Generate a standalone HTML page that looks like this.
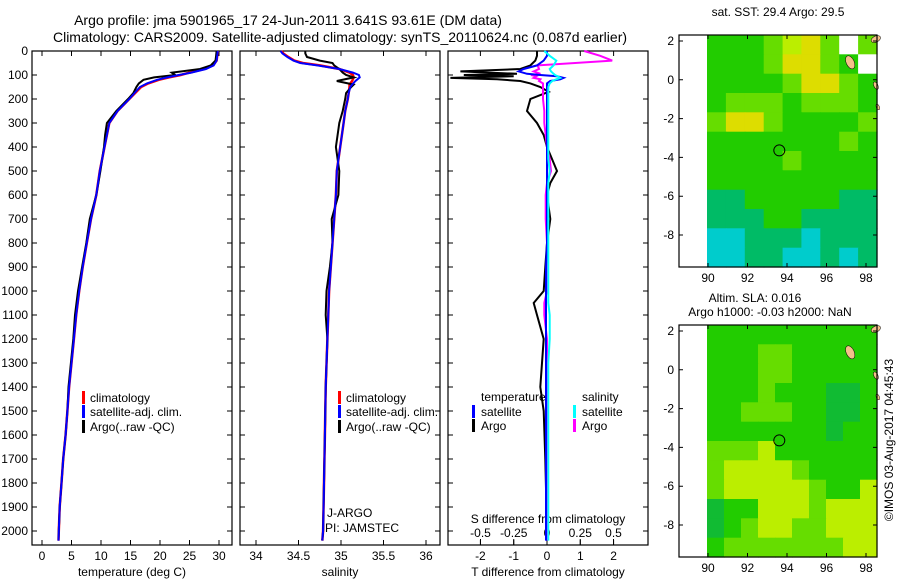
<!DOCTYPE html>
<html><head><meta charset="utf-8"><style>
body{margin:0;background:#fff;}
svg{display:block;font-family:"Liberation Sans",sans-serif;}
</style></head><body>
<svg id="chart" width="900" height="580" viewBox="0 0 900 580" xmlns="http://www.w3.org/2000/svg">
<text x="288" y="25" font-size="14" text-anchor="middle">Argo profile: jma 5901965_17 24-Jun-2011 3.641S 93.61E (DM data)</text>
<text x="340" y="42" font-size="14" text-anchor="middle">Climatology: CARS2009. Satellite-adjusted climatology: synTS_20110624.nc (0.087d earlier)</text>
<text x="778" y="16" font-size="12" text-anchor="middle">sat. SST: 29.4 Argo: 29.5</text>
<text x="755" y="302" font-size="12" text-anchor="middle">Altim. SLA: 0.016</text>
<text x="770" y="316" font-size="12" text-anchor="middle">Argo h1000: -0.03 h2000: NaN</text>
<text transform="translate(893,440) rotate(-90)" font-size="12" text-anchor="middle">©IMOS 03-Aug-2017 04:45:43</text>
<g id="plots"></g>
</svg>
<script>
// ---- profile data ----
const depthT = [0,20,40,60,75,90,100,110,120,135,150,175,200,250,300,350,400,500,600,700,800,900,1000,1100,1200,1300,1400,1500,1600,1700,1800,1900,2000,2040];
const climT  = [29.8,29.7,29.6,29.0,27.5,25.0,23.5,21.5,19.8,18.0,16.8,15.8,14.8,12.8,11.4,11.0,10.6,9.8,9.2,8.3,7.6,6.9,6.3,5.8,5.4,5.0,4.6,4.3,4.0,3.6,3.3,3.0,2.85,2.8];
const satT   = [29.8,29.7,29.6,29.1,27.8,25.3,23.2,21.2,19.5,17.8,16.6,15.7,14.8,12.8,11.4,11.0,10.6,9.8,9.2,8.3,7.6,6.9,6.3,5.8,5.4,5.0,4.6,4.3,4.0,3.6,3.3,3.0,2.85,2.8];
const argoT  = [29.6,29.5,29.4,28.6,26.8,22.0,22.6,19.0,17.2,16.4,16.0,15.5,14.6,12.6,11.0,10.7,10.5,9.9,9.2,8.1,7.5,6.8,6.1,5.6,5.3,4.9,4.5,4.3,4.0,3.6,3.3,3.0,2.85,2.8];
const depthS = [0,10,25,40,50,60,75,90,100,110,125,140,150,175,200,250,300,400,500,600,700,800,900,1000,1100,1200,1400,1600,1800,2000,2040];
const climS  = [34.30,34.32,34.38,34.45,34.55,34.75,34.98,35.10,35.14,35.15,35.13,35.10,35.10,35.09,35.08,35.05,35.03,34.99,34.95,34.94,34.92,34.90,34.88,34.86,34.85,34.84,34.82,34.81,34.80,34.79,34.78];
const satS   = [34.29,34.31,34.37,34.44,34.52,34.72,34.98,35.14,35.21,35.22,35.17,35.13,35.11,35.09,35.08,35.05,35.03,34.99,34.95,34.94,34.92,34.90,34.88,34.86,34.85,34.84,34.82,34.81,34.80,34.79,34.78];
const argoS  = [34.58,34.58,34.60,34.75,34.90,34.92,34.98,35.02,35.06,35.15,34.95,35.15,35.12,35.06,35.05,35.02,34.98,34.94,34.98,34.97,34.89,34.90,34.87,34.83,34.82,34.84,34.82,34.81,34.80,34.79,34.78];
const depthD = [0,20,40,60,75,85,95,100,105,112,118,125,135,150,170,200,250,300,350,400,450,500,550,600,700,800,900,1000,1050,1100,1200,1300,1400,1500,1700,2000,2040];
const dTargo = [-0.3,-0.3,-0.35,-0.5,-0.8,-2.6,-0.9,-2.5,-1.0,-2.9,-1.5,-0.8,-0.5,-0.2,0.05,-0.5,-0.6,-0.3,-0.1,0,0.15,0.3,0.1,0,0.1,0,-0.05,-0.1,-0.4,-0.3,-0.1,-0.15,-0.2,-0.1,-0.05,0,0];
const dTsat  = [0,0,-0.1,-0.3,-0.7,-0.85,-0.6,-0.2,0.3,0.5,0.4,0.1,0,0,0,0,0,0,0,0,0,0,0,0,0,0,-0.03,-0.03,-0.03,-0.03,-0.03,-0.03,-0.03,-0.03,-0.03,-0.03,-0.03];
const dSargo = [0.28,0.4,0.49,-0.07,-0.06,-0.1,-0.05,-0.12,-0.08,-0.1,-0.05,-0.06,-0.03,-0.03,-0.03,-0.03,-0.02,-0.02,-0.01,0,0.02,0.03,0,-0.01,-0.01,0,0,0,-0.02,-0.02,0,0,0,0,0,0,0];
const dSsat  = [-0.02,0.02,0.07,0.05,0.02,0.03,0.05,0.06,0.08,0.1,0.07,0.04,0.02,0.01,0.01,0.01,0.01,0.01,0.01,0.01,0.01,0.02,0.01,0.01,0.01,0.01,0.01,0.01,0.01,0.02,0.02,0.01,0.01,0.01,0.01,0.01,0.01];
const depthTicks = [0,100,200,300,400,500,600,700,800,900,1000,1100,1200,1300,1400,1500,1600,1700,1800,1900,2000];
const tempTicks = [0,5,10,15,20,25,30];
const salTicks = [34,34.5,35,35.5,36];
const tdTicks = [-2,-1,0,1,2];
const sdTicks = [-0.5,-0.25,0,0.25,0.5];
const sdTickLabels = ["-0.5","-0.25","0","0.25","0.5"];
// ---- map data (coarse colour codes per cell) ----
const sstRows = ["ggglyYlwl","ggglYYlgw","gggglYYlg","glllglllg","lYYlggggl","ggggggglg","gggglgggg","ggggggggg","ttgggggtt","tttggtttt","cctttcttt","ccttcctct"];
const slaRows = ["gggggggggg","gggllggggg","gggllggggg","ggglgggddg","gglllggddg","gggggggdgg","lllygggggg","lyyyylgggg","lyyyyylggy","dggyyylyyy","dglyyllyyy","glllllllyy"];
const mapCols = {g:"#22cc00",l:"#66dd00",Y:"#dddd00",y:"#bbee00",t:"#00bb66",c:"#00cccc",d:"#11bb33",w:"#ffffff"};

const NS = "http://www.w3.org/2000/svg";
const root = document.getElementById('plots');
function mk(tag, attrs, parent){const e=document.createElementNS(NS,tag);for(const k in attrs)e.setAttribute(k,attrs[k]);(parent||root).appendChild(e);return e;}

const Y0=51, YB=545;
const yD = d => Y0 + d*0.24;

function panel(x0,x1,name){
  const g=mk('g',{});
  
  
  const r=mk('rect',{x:x0,y:Y0,width:x1-x0,height:YB-Y0,fill:'none',stroke:'#000','stroke-width':1.2},g);
  
  
  depthTicks.forEach(d=>{
    const t=mk('path',{d:`M${x0} ${yD(d)}h5M${x1} ${yD(d)}h-5`,stroke:'#000'},g);
    
    
  });
  return g;
}
function line(g,xs,ds,fx,col,w,name){
  const pts=xs.map((v,i)=>`${fx(v).toFixed(1)},${yD(ds[i]).toFixed(1)}`).join(' ');
  const p=mk('polyline',{points:pts,fill:'none',stroke:col,'stroke-width':w},g);
  
  
}
function xticks(g,ticks,labels,fx,y,name){
  ticks.forEach((v,i)=>{
    const x=fx(v);
    const t=mk('path',{d:`M${x} ${YB}v-5M${x} ${Y0}v5`,stroke:'#000'},g);
    
    
    const l=mk('text',{x:x,y:y,'font-size':12,'text-anchor':'middle'},g);
    l.textContent=labels?labels[i]:String(v);
    
    
  });
}
function txt(g,x,y,s,name,anchor,size){
  const t=mk('text',{x:x,y:y,'font-size':size||12,'text-anchor':anchor||'start'},g);
  t.textContent=s;
  
  
}
function legendMark(g,x,y,col,name){
  const m=mk('rect',{x:x,y:y-11,width:3,height:13,fill:col},g);
  
  
}

depthTicks.forEach(d=>{
  const l=mk('text',{x:28,y:yD(d)+4,'font-size':12,'text-anchor':'end'});
  l.textContent=String(d);
  
  
});

const fT = v => 42 + v*5.9;
const g1=panel(32,232,'temperature-panel');
xticks(g1,tempTicks,null,fT,560,'temperature-axis');
txt(g1,132,576,'temperature (deg C)','temperature-axis-title','middle');
line(g1,climT,depthT,fT,'#ff0000',2.5,'temperature-climatology-line');
line(g1,argoT,depthT,fT,'#000000',2,'temperature-argo-line');
line(g1,satT,depthT,fT,'#0000ff',2,'temperature-satellite-line');
legendMark(g1,82,402,'#ff0000','legend-climatology-mark');
txt(g1,90,402,'climatology','legend-climatology');
legendMark(g1,82,416,'#0000ff','legend-satellite-mark');
txt(g1,90,416,'satellite-adj. clim.','legend-satellite');
legendMark(g1,82,431,'#000000','legend-argo-mark');
txt(g1,90,431,'Argo(..raw -QC)','legend-argo');

const fS = v => 256 + (v-34)*85;
const g2=panel(240,440,'salinity-panel');
xticks(g2,salTicks,null,fS,560,'salinity-axis');
txt(g2,340,576,'salinity','salinity-axis-title','middle');
line(g2,climS,depthS,fS,'#ff0000',2.5,'salinity-climatology-line');
line(g2,argoS,depthS,fS,'#000000',2,'salinity-argo-line');
line(g2,satS,depthS,fS,'#0000ff',2,'salinity-satellite-line');
legendMark(g2,338,402,'#ff0000','legend-climatology-mark');
txt(g2,346,402,'climatology','legend-climatology');
legendMark(g2,338,416,'#0000ff','legend-satellite-mark');
txt(g2,346,416,'satellite-adj. clim.','legend-satellite');
legendMark(g2,338,431,'#000000','legend-argo-mark');
txt(g2,346,431,'Argo(..raw -QC)','legend-argo');
txt(g2,327,517,'J-ARGO','float-program-label');
txt(g2,325,532,'PI: JAMSTEC','float-pi-label');

const fTD = v => 547 + v*33.3;
const fSD = v => 547 + v*133;
const g3=panel(448,648,'difference-panel');
xticks(g3,tdTicks,null,fTD,560,'t-difference-axis');
sdTicks.forEach((v,i)=>{
  const x=fSD(v);
  const t=mk('path',{d:`M${x} 539v6`,stroke:'#000'},g3);
  
  
  txt(g3,x,537,sdTickLabels[i],'s-difference-tick-label','middle');
});
txt(g3,548,523,'S difference from climatology','s-difference-axis-title','middle');
txt(g3,548,576,'T difference from climatology','t-difference-axis-title','middle');
line(g3,dTargo,depthD,fTD,'#000000',2,'t-difference-argo-line');
line(g3,dSargo,depthD,fSD,'#ff00ff',2,'s-difference-argo-line');
line(g3,dTsat,depthD,fTD,'#0000ff',2,'t-difference-satellite-line');
line(g3,dSsat,depthD,fSD,'#00ffff',2,'s-difference-satellite-line');
txt(g3,481,401,'temperature','legend-temperature-heading');
txt(g3,582,401,'salinity','legend-salinity-heading');
legendMark(g3,472,416,'#0000ff','legend-t-satellite-mark');
txt(g3,481,416,'satellite','legend-t-satellite');
legendMark(g3,472,430,'#000000','legend-t-argo-mark');
txt(g3,481,430,'Argo','legend-t-argo');
legendMark(g3,573,416,'#00ffff','legend-s-satellite-mark');
txt(g3,582,416,'satellite','legend-s-satellite');
legendMark(g3,573,430,'#ff00ff','legend-s-argo-mark');
txt(g3,582,430,'Argo','legend-s-argo');

const lonTicks=[90,92,94,96,98];
const latTicks=[2,0,-2,-4,-6,-8];
function map(top,rows,name){
  const bottom=top+232, L=679, R=877;
  const fx = lon => 708 + (lon-90)*19.75;
  const fy = lat => top + 6 + (2-lat)*19.4;
  const g=mk('g',{});
  
  
  const nR=rows.length, nC=rows[0].length;
  const x0=707, cw=(R-x0)/nC, ch=(bottom-top)/nR;
  rows.forEach((row,ri)=>{
    [...row].forEach((c,ci)=>{
      const cell=mk('rect',{x:(x0+ci*cw).toFixed(1),y:(top+ri*ch).toFixed(1),width:(cw+0.6).toFixed(1),height:(ch+0.6).toFixed(1),fill:mapCols[c]},g);
      
      
    });
  });
  const land=[[fx(97.2),fy(0.9),4,7],[fx(98.5),fy(2.1),5,3],[fx(98.5),fy(-0.3),2,4],[fx(98.6),fy(-1.4),1.5,3]];
  land.forEach(a=>{
    const e=mk('ellipse',{cx:a[0],cy:a[1],rx:a[2],ry:a[3],fill:'#f5c08a',stroke:'#000','stroke-width':0.5,transform:`rotate(-25 ${a[0]} ${a[1]})`},g);
    
    
  });
  const f=mk('rect',{x:L,y:top,width:R-L,height:bottom-top,fill:'none',stroke:'#000','stroke-width':1.2},g);
  
  
  lonTicks.forEach(v=>{
    const x=fx(v);
    const t=mk('path',{d:`M${x} ${bottom}v-4M${x} ${top}v4`,stroke:'#000'},g);
    
    
    txt(g,x,bottom+15,String(v),'longitude-tick-label','middle');
  });
  latTicks.forEach(v=>{
    const y=fy(v);
    const t=mk('path',{d:`M${L} ${y}h4M${R} ${y}h-4`,stroke:'#000'},g);
    
    
    txt(g,L-5,y+4,String(v),'latitude-tick-label','end');
  });
  const c=mk('circle',{cx:fx(93.61),cy:fy(-3.641),r:5.5,fill:'none',stroke:'#000','stroke-width':1},g);
  
  
}
map(35,sstRows,'sst-map');
map(325,slaRows,'sla-map');
</script>
</body></html>
